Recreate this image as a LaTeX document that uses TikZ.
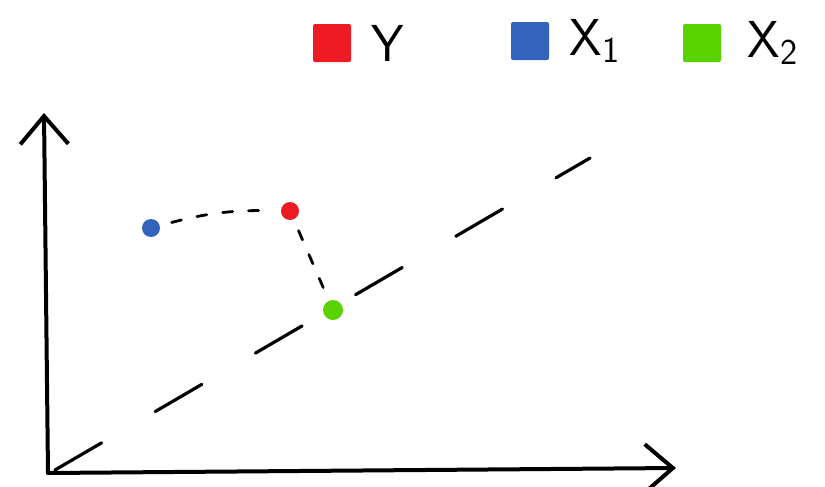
\documentclass[tikz,border=0pt]{standalone}
\usepackage{tikz}
\usetikzlibrary{arrows.meta,positioning,calc}
\definecolor{ptred}{RGB}{237,28,36}
\definecolor{ptblue}{RGB}{50,100,190}
\definecolor{ptgreen}{RGB}{90,210,0}
\tikzset{
  axis/.style={line width=2pt, line cap=round, -{Straight Barb[length=14pt,width=24pt,line width=2pt]}},
  dot/.style={circle, inner sep=0pt, minimum width=8pt, minimum height=9pt},
  swatch/.style={minimum width=19pt, minimum height=19pt, inner sep=0pt, rounded corners=1pt},
  legendtext/.style={font=\sffamily\fontsize{26}{28}\selectfont, anchor=west, inner sep=0pt},
  link/.style={line width=1.4pt, dash pattern=on 5pt off 8pt, line cap=round, shorten <=6pt, shorten >=6pt}
}
\begin{document}
\begin{tikzpicture}[x=0.5pt, y=-0.5pt]
  \useasboundingbox (0,0) rectangle (825,487);
  % Axes
  \coordinate (origin) at (48,473);
  \coordinate (ytip) at (44,113);
  \coordinate (xtip) at (676,468);
  \draw[axis] (origin) -- (ytip);
  \draw[axis] (origin) -- (xtip);
  % Diagonal (dashed)
  \coordinate (dstart) at (55,470);
  \coordinate (dend) at (590,158);
  \draw[line width=1.6pt, line cap=round, dash pattern=on 27pt off 31pt] (dstart) -- (dend);
  % Points
  \node[dot, fill=ptblue] (x1) at (151,228) {};
  \node[dot, fill=ptred] (y) at (290,211) {};
  \node[dot, fill=ptgreen, minimum width=9pt, minimum height=10pt] (x2) at (333,310) {};
  % Links between points
  \draw[link] (x1) to[bend left=8] (y);
  \draw[link] (y) -- (x2);
  % Legend
  \node[swatch, fill=ptred] (ly) at (332,43) {};
  \node[legendtext, right=10pt of ly] {Y};
  \node[swatch, fill=ptblue] (lx1) at (530,41) {};
  \node[legendtext, right=10pt of lx1] {X\textsubscript{1}};
  \node[swatch, fill=ptgreen] (lx2) at (702,43) {};
  \node[legendtext, right=13pt of lx2] {X\textsubscript{2}};
\end{tikzpicture}
\end{document}
